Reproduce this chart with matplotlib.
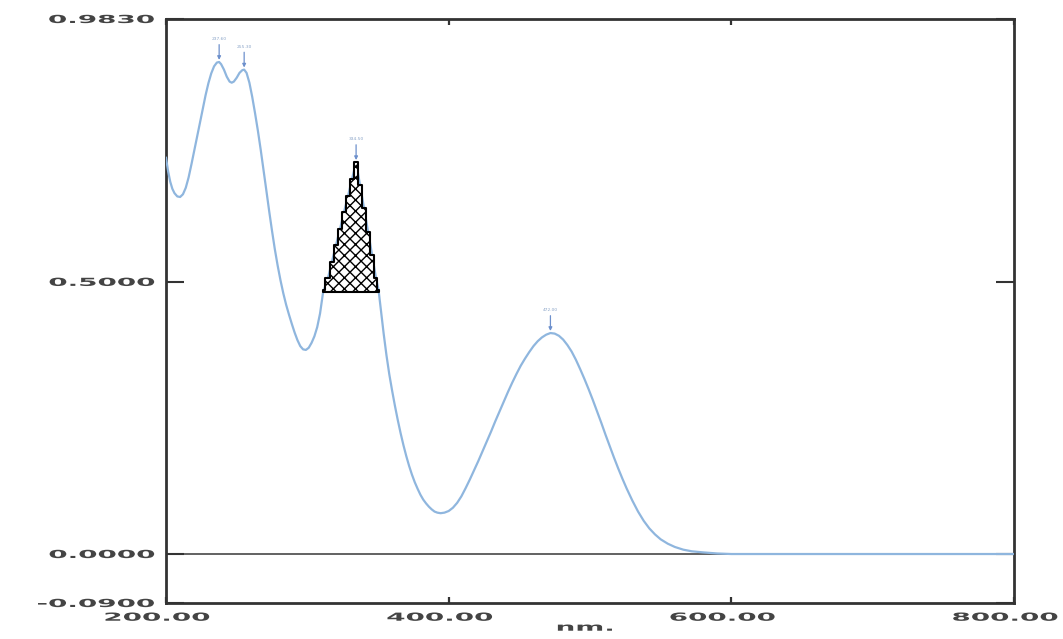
import matplotlib
matplotlib.use("Agg")
import matplotlib.pyplot as plt
from matplotlib.patheffects import AbstractPathEffect
from matplotlib.transforms import Affine2D

# ---------------- data ----------------
wavelength_nm = [200, 201.5, 203, 204.5, 206, 208, 210, 212, 214, 216, 218, 220, 222, 224, 226, 228,
                 230, 232, 234, 236, 237.6, 239, 241, 243, 245, 246.5, 248, 250, 252, 254, 255.3,
                 257, 259, 261, 263, 265, 267, 269, 271, 273, 275, 277, 279, 281, 283, 285, 287,
                 289, 291, 293, 295, 297, 299, 301, 303, 305, 307, 309,
                 311.1, 314.6, 317.4, 320.3, 323.1, 326, 328.8, 331.6, 334.5, 337.3, 340.1,
                 343, 345.8, 348.6, 350.4,
                 352, 354, 356, 358, 360, 362, 364, 366, 368, 370, 372, 374, 376, 378, 380, 382,
                 384, 386, 388, 390, 392, 394.3, 397, 400, 403, 406, 409, 412, 415, 418, 421, 424,
                 427, 430, 433, 436, 439, 442, 445, 448, 451, 454, 457, 460, 463, 466, 469, 472,
                 475, 478, 481, 484, 487, 490, 493, 496, 499, 502, 505, 508, 511, 514, 517, 520,
                 523, 526, 530, 534, 538, 542, 546, 550, 555, 560, 566, 572, 580, 590, 600,
                 650, 700, 750, 800]
absorbance = [0.728, 0.703, 0.684, 0.671, 0.663, 0.657, 0.656, 0.661, 0.673, 0.692, 0.716, 0.741,
              0.767, 0.792, 0.818, 0.843, 0.865, 0.883, 0.896, 0.903, 0.904, 0.900, 0.890, 0.877,
              0.868, 0.866, 0.868, 0.875, 0.884, 0.889, 0.890, 0.884, 0.866, 0.840, 0.810, 0.778,
              0.743, 0.706, 0.668, 0.630, 0.594, 0.560, 0.530, 0.503, 0.479, 0.458, 0.440, 0.423,
              0.407, 0.393, 0.382, 0.376, 0.375, 0.379, 0.388, 0.400, 0.417, 0.442,
              0.480, 0.507, 0.537, 0.568, 0.597, 0.629, 0.658, 0.689, 0.720, 0.678, 0.636,
              0.592, 0.550, 0.507, 0.485,
              0.450, 0.405, 0.365, 0.330, 0.300, 0.272, 0.246, 0.222, 0.200, 0.180, 0.162, 0.146,
              0.132, 0.120, 0.109, 0.100, 0.093, 0.087, 0.082, 0.078, 0.076, 0.075, 0.076, 0.079,
              0.085, 0.094, 0.106, 0.121, 0.137, 0.154, 0.171, 0.189, 0.207, 0.225, 0.244, 0.262,
              0.280, 0.298, 0.315, 0.331, 0.346, 0.359, 0.371, 0.382, 0.391, 0.398, 0.403, 0.406,
              0.405, 0.401, 0.394, 0.384, 0.372, 0.357, 0.340, 0.322, 0.303, 0.283, 0.262, 0.241,
              0.219, 0.198, 0.177, 0.157, 0.138, 0.120, 0.098, 0.078, 0.061, 0.047, 0.036, 0.027,
              0.019, 0.013, 0.008, 0.005, 0.003, 0.001, 0.0, 0.0, 0.0, 0.0, 0.0]

# hatched (integrated) band
band_nm = [311.1, 314.6, 317.4, 320.3, 323.1, 326, 328.8, 331.6, 334.5, 337.3, 340.1, 343, 345.8, 348.6, 350.4]
band_top = [0.485, 0.507, 0.537, 0.568, 0.597, 0.629, 0.658, 0.689, 0.720, 0.678, 0.636, 0.592, 0.550, 0.507, 0.485]
band_base = 0.482

# labelled peaks
peak_nm = [237.6, 255.3, 334.5, 472.0]
peak_abs = [0.904, 0.890, 0.720, 0.406]
peak_labels = ["237.60", "255.30", "334.50", "472.00"]

x_ticks = [200, 400, 600, 800]
x_ticklabels = ["200.00", "400.00", "600.00", "800.00"]
y_ticks = [-0.09, 0.0, 0.5, 0.983]
y_ticklabels = ["-0.0900", "0.0000", "0.5000", "0.9830"]


class Stretch(AbstractPathEffect):
    """Draw text wider than normal (the reference uses a very wide font)."""
    def __init__(self, sx=2.7, sy=1.0, anchor="center", dx=0.0):
        super().__init__()
        self.sx, self.sy, self.anchor, self.dx = sx, sy, anchor, dx

    def draw_path(self, renderer, gc, tpath, affine, rgbFace=None):
        ext = tpath.get_extents(affine)
        if self.anchor == "right":
            cx = ext.x1
        elif self.anchor == "left":
            cx = ext.x0
        else:
            cx = 0.5 * (ext.x0 + ext.x1)
        cy = 0.5 * (ext.y0 + ext.y1)
        t = affine + Affine2D().translate(-cx, -cy).scale(self.sx, self.sy).translate(cx + self.dx, cy)
        renderer.draw_path(gc, tpath, t, rgbFace)


plt.rcParams["font.family"] = ["DejaVu Sans"]
plt.rcParams["hatch.linewidth"] = 1.0

fig = plt.figure(figsize=(10.63, 6.39), dpi=100)
ax = fig.add_axes([166 / 1063, 1 - 603 / 639, (1014 - 166) / 1063, (603 - 19) / 639])

curve_color = "#8fb6de"
ax.axhline(0.0, color="#555555", lw=1.3, zorder=1.5)
ax.plot(wavelength_nm, absorbance, color=curve_color, lw=1.6, zorder=3)

ax.fill_between(band_nm, band_base, band_top, step="mid", facecolor="white",
                edgecolor="black", hatch="xxx", lw=1.5, zorder=4)

for xn, yv, lab in zip(peak_nm, peak_abs, peak_labels):
    ax.annotate(lab, xy=(xn, yv), xytext=(0, 15), textcoords="offset points",
                ha="center", va="bottom", fontsize=3.2, color="#8aa4c8",
                arrowprops=dict(arrowstyle="-|>", color="#6d90cc", lw=0.9,
                                mutation_scale=5, shrinkA=0.5, shrinkB=1.5),
                zorder=5)

ax.set_xlim(200, 800)
ax.set_ylim(-0.09, 0.983)

ax.set_xticks(x_ticks)
ax.set_xticklabels(x_ticklabels)
ax.set_yticks(y_ticks)
ax.set_yticklabels(y_ticklabels)

txt_color = "#444444"
ax.tick_params(axis="y", direction="in", length=13, width=1.5, color="#333333",
               left=True, right=True, labelsize=8, labelcolor=txt_color, pad=8.5)
ax.tick_params(axis="x", direction="in", length=4, width=1.6, color="#333333",
               top=True, bottom=True, labelsize=8, labelcolor=txt_color, pad=7)

for lab in ax.get_yticklabels():
    lab.set_fontweight("bold")
    lab.set_path_effects([Stretch(sx=2.5, anchor="right")])
for lab in ax.get_xticklabels():
    lab.set_fontweight("bold")
    lab.set_path_effects([Stretch(sx=2.5, anchor="center", dx=-9)])

ax.set_xlabel("nm.", fontsize=8, color=txt_color, labelpad=0, fontweight="bold")
ax.xaxis.label.set_path_effects([Stretch(sx=2.5, anchor="center", dx=-5)])

for s in ax.spines.values():
    s.set_color("#333333")
    s.set_linewidth(2.0)

fig.savefig("out.png", dpi=100, facecolor="white")
